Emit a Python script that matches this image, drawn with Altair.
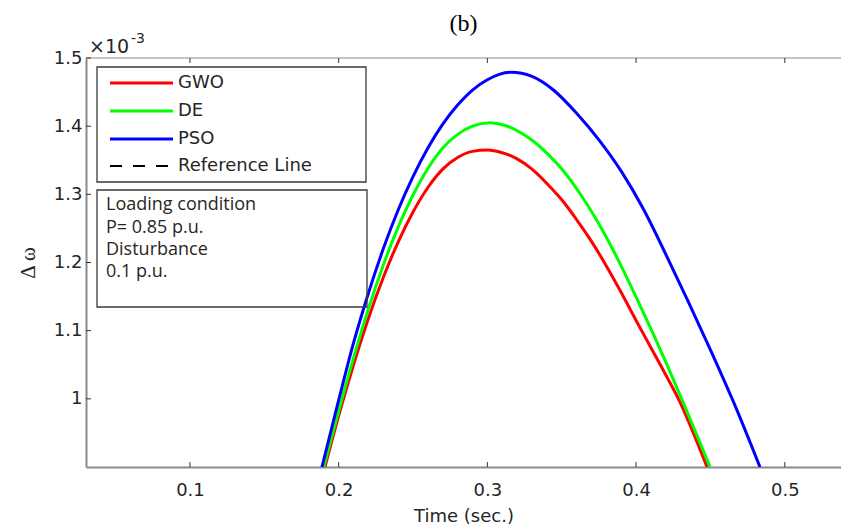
import altair as alt
import pandas as pd

# --- series: frequency deviation (x1e-3) vs time, one list pair per controller ---
gwo_t = [0.1908, 0.200, 0.210, 0.220, 0.230, 0.240, 0.250, 0.260, 0.270, 0.280, 0.290, 0.300,
         0.310, 0.320, 0.330, 0.340, 0.350, 0.360, 0.370, 0.380, 0.390, 0.400, 0.410, 0.420,
         0.430, 0.440, 0.4477]
gwo_v = [0.900, 0.975, 1.050, 1.118, 1.178, 1.230, 1.274, 1.310, 1.337, 1.354, 1.363, 1.365,
         1.361, 1.352, 1.337, 1.316, 1.292, 1.263, 1.231, 1.195, 1.156, 1.115, 1.075, 1.035,
         0.993, 0.942, 0.900]

de_t = [0.190, 0.200, 0.210, 0.220, 0.230, 0.240, 0.250, 0.260, 0.270, 0.280, 0.290, 0.3017,
        0.312, 0.322, 0.332, 0.342, 0.352, 0.362, 0.372, 0.382, 0.392, 0.402, 0.412, 0.422,
        0.432, 0.442, 0.4497]
de_v = [0.900, 0.982, 1.060, 1.132, 1.196, 1.252, 1.299, 1.338, 1.368, 1.388, 1.400, 1.405,
        1.401, 1.391, 1.376, 1.356, 1.332, 1.302, 1.268, 1.229, 1.186, 1.140, 1.093, 1.044,
        0.993, 0.941, 0.900]

pso_t = [0.1888, 0.200, 0.210, 0.220, 0.230, 0.240, 0.250, 0.260, 0.270, 0.280, 0.290, 0.300,
         0.308, 0.316, 0.330, 0.345, 0.360, 0.375, 0.390, 0.405, 0.420, 0.435, 0.450, 0.465,
         0.4833]
pso_v = [0.900, 0.998, 1.082, 1.155, 1.220, 1.277, 1.326, 1.368, 1.403, 1.431, 1.453, 1.468,
         1.476, 1.479, 1.473, 1.452, 1.419, 1.380, 1.334, 1.278, 1.212, 1.143, 1.072, 0.998,
         0.900]

methods = ["GWO", "DE", "PSO"]
colors = ["#ff0000", "#00ff00", "#0000ff"]
x_ticks = [0.1, 0.2, 0.3, 0.4, 0.5]
y_ticks = [1.0, 1.1, 1.2, 1.3, 1.4, 1.5]
info_lines = ["Loading condition", "P= 0.85 p.u.", "Disturbance", "0.1 p.u."]

W, H = 755, 409
X_DOMAIN = [0.0301, 0.5378]
Y_DOMAIN = [0.9, 1.5]
AX = "#8a8a8a"
TXT = "#262626"
SANS = "DejaVu Sans"

xs = alt.Scale(domain=X_DOMAIN, nice=False, zero=False)
ys = alt.Scale(domain=Y_DOMAIN, nice=False, zero=False)


def series(name, t, v, color):
    df = pd.DataFrame({"time": t, "dw": v, "method": name})
    return alt.Chart(df).mark_line(
        color=color, strokeWidth=3, interpolate="monotone", clip=True
    ).encode(
        x=alt.X("time:Q", scale=xs,
                axis=alt.Axis(values=x_ticks, format="~g", tickSize=0, labelPadding=14,
                              labelFont=SANS, labelFontSize=18, labelColor=TXT,
                              domainColor=AX, domainWidth=2, grid=False,
                              title="Time (sec.)", titleFont=SANS, titleFontSize=18,
                              titleFontWeight="normal", titleColor=TXT, titlePadding=8)),
        y=alt.Y("dw:Q", scale=ys,
                axis=alt.Axis(values=y_ticks, format="~g", tickSize=0, labelPadding=4,
                              labelFont=SANS, labelFontSize=18, labelColor=TXT,
                              domainColor=AX, domainWidth=2, grid=False,
                              title="Δ ω", titleFont="Liberation Serif", titleFontSize=21,
                              titleFontWeight="normal", titleColor=TXT, titleAngle=-90,
                              titleX=-58, titleY=H / 2, titleAlign="center",
                              titleBaseline="middle")),
    )


layers = []

# top frame line and inward ticks
one = pd.DataFrame({"k": [0]})
layers.append(alt.Chart(one).mark_rule(color="#c4c4c4", strokeWidth=2).encode(
    x=alt.value(0), x2=alt.value(W), y=alt.value(0)))

xt = pd.DataFrame({"time": x_ticks})
layers.append(alt.Chart(xt).mark_rule(color="#333333", strokeWidth=1).encode(
    x=alt.X("time:Q", scale=xs), y=alt.value(H), y2=alt.value(H - 5)))
layers.append(alt.Chart(xt).mark_rule(color="#333333", strokeWidth=1).encode(
    x=alt.X("time:Q", scale=xs), y=alt.value(0), y2=alt.value(5)))
yt = pd.DataFrame({"dw": y_ticks})
layers.append(alt.Chart(yt).mark_rule(color="#333333", strokeWidth=1).encode(
    y=alt.Y("dw:Q", scale=ys), x=alt.value(0), x2=alt.value(5)))

# curves, drawn GWO first so PSO ends up on top
for name, t, v, c in zip(methods, [gwo_t, de_t, pso_t], [gwo_v, de_v, pso_v], colors):
    layers.append(series(name, t, v, c))

# legend box
layers.append(alt.Chart(one).mark_rect(fill=None, stroke="#3a3a3a", strokeWidth=1.3).encode(
    x=alt.value(11), x2=alt.value(280), y=alt.value(9), y2=alt.value(124)))
legend_rows = [("GWO", "#ff0000", []), ("DE", "#00ff00", []), ("PSO", "#0000ff", []),
               ("Reference Line", "#000000", [12, 11])]
row_y = [25, 53, 81, 108]
for (lab, col, dash), ry in zip(legend_rows, row_y):
    props = dict(color=col, strokeWidth=3 if not dash else 2)
    if dash:
        props["strokeDash"] = dash
    layers.append(alt.Chart(one).mark_rule(**props).encode(
        x=alt.value(24), x2=alt.value(87), y=alt.value(ry)))
    layers.append(alt.Chart(pd.DataFrame({"s": [lab]})).mark_text(
        align="left", baseline="middle", font=SANS, fontSize=18, color=TXT).encode(
        text="s:N", x=alt.value(92), y=alt.value(ry)))

# operating-condition text box
layers.append(alt.Chart(one).mark_rect(fill=None, stroke="#3a3a3a", strokeWidth=1.3).encode(
    x=alt.value(11), x2=alt.value(281), y=alt.value(132), y2=alt.value(249)))
for line, ly in zip(info_lines, [147, 170, 192, 214]):
    layers.append(alt.Chart(pd.DataFrame({"s": [line]})).mark_text(
        align="left", baseline="middle", font="Open Sans", fontSize=18, color="#2b2620").encode(
        text="s:N", x=alt.value(20), y=alt.value(ly)))

# exponent marker and panel label
layers.append(alt.Chart(pd.DataFrame({"s": ["×10"]})).mark_text(
    align="left", baseline="alphabetic", font=SANS, fontSize=19, color=TXT).encode(
    text="s:N", x=alt.value(3), y=alt.value(-5)))
layers.append(alt.Chart(pd.DataFrame({"s": ["-3"]})).mark_text(
    align="left", baseline="alphabetic", font=SANS, fontSize=14, color=TXT).encode(
    text="s:N", x=alt.value(45), y=alt.value(-15)))
layers.append(alt.Chart(pd.DataFrame({"s": ["(b)"]})).mark_text(
    align="center", baseline="alphabetic", font="Liberation Serif", fontSize=24, color="#000000").encode(
    text="s:N", x=alt.value(W / 2), y=alt.value(-27)))

chart = alt.layer(*layers).properties(
    width=W, height=H,
    autosize=alt.AutoSizeParams(type="none"),
    padding={"left": 86, "top": 58, "right": 0, "bottom": 62},
    background="white",
).configure_view(stroke=None)

chart.save("out.html", embed_options={"renderer": "svg", "actions": False})
